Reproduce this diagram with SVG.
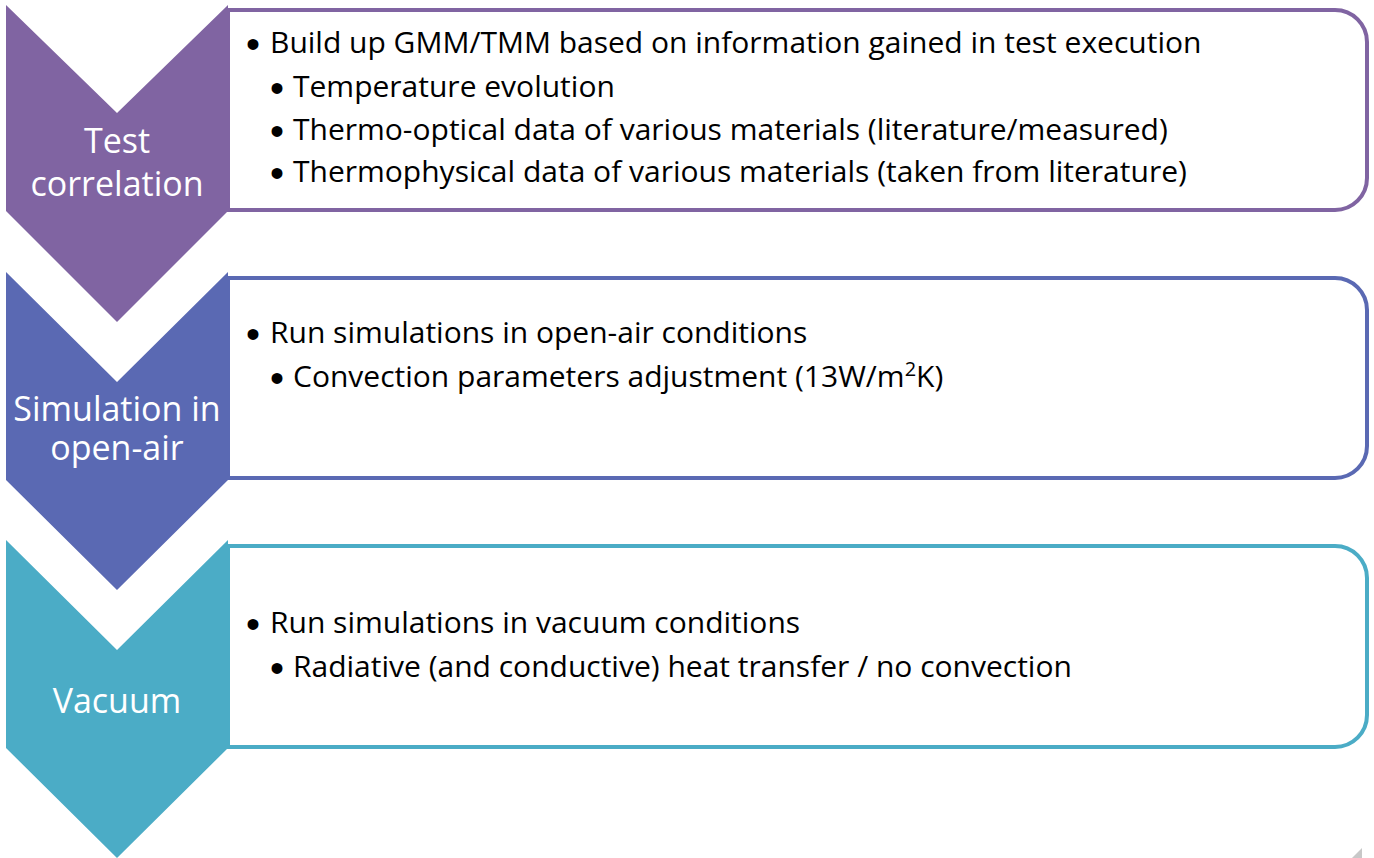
<svg xmlns="http://www.w3.org/2000/svg" width="1374" height="858" viewBox="0 0 1374 858">
<style>
.box{fill:#fff;stroke-width:4}
.lbl{font-family:"Open Sans","Liberation Sans",sans-serif;font-size:34px;fill:#fff;text-anchor:middle}
.t{font-family:"Open Sans","Liberation Sans",sans-serif;font-size:30px;fill:#000}
.b{font-family:"Liberation Sans",sans-serif;font-size:40px;fill:#000}
</style>
<rect width="1374" height="858" fill="#fff"/>
<g id="step1">
<path class="box" stroke="#8064A2" d="M228,10 H1335 A32,32 0 0 1 1367,42 V178 A32,32 0 0 1 1335,210 H228 Z"/>
<polygon fill="#8064A2" points="6,5 117,113 228,5 228,211 117,322 6,211"/>
<text class="lbl" x="117" y="153">Test</text>
<text class="lbl" x="117" y="196">correlation</text>
<text class="b" x="246" y="58">•</text>
<text class="t" x="270" y="53">Build up GMM/TMM based on information gained in test execution</text>
<text class="b" x="270" y="102">•</text>
<text class="t" x="293" y="97">Temperature evolution</text>
<text class="b" x="270" y="145">•</text>
<text class="t" x="293" y="140">Thermo-optical data of various materials (literature/measured)</text>
<text class="b" x="270" y="187">•</text>
<text class="t" x="293" y="182">Thermophysical data of various materials (taken from literature)</text>
</g>
<g id="step2">
<path class="box" stroke="#5A69B3" d="M228,278 H1335 A32,32 0 0 1 1367,310 V446 A32,32 0 0 1 1335,478 H228 Z"/>
<polygon fill="#5A69B3" points="6,272 117,382 228,272 228,480 117,590 6,480"/>
<text class="lbl" x="117" y="421">Simulation in</text>
<text class="lbl" x="117" y="460">open-air</text>
<text class="b" x="246" y="348">•</text>
<text class="t" x="270" y="343">Run simulations in open-air conditions</text>
<text class="b" x="270" y="392">•</text>
<text class="t" x="293" y="387">Convection parameters adjustment (13W/m<tspan font-size="20" dy="-11">2</tspan><tspan dy="11">K)</tspan></text>
</g>
<g id="step3">
<path class="box" stroke="#4BACC6" d="M228,546 H1335 A32,32 0 0 1 1367,578 V715 A32,32 0 0 1 1335,747 H228 Z"/>
<polygon fill="#4BACC6" points="6,540 117,650 228,540 228,748 117,858 6,748"/>
<text class="lbl" x="117" y="713">Vacuum</text>
<text class="b" x="246" y="638">•</text>
<text class="t" x="270" y="633">Run simulations in vacuum conditions</text>
<text class="b" x="270" y="682">•</text>
<text class="t" x="293" y="677">Radiative (and conductive) heat transfer / no convection</text>
</g>
<g id="connectors"></g>
<polygon fill="#c8c8c8" points="1362,848 1362,858 1352,858"/>
</svg>
